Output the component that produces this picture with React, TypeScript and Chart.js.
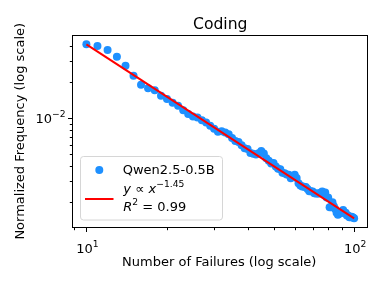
import React, { useEffect, useRef } from "react";
import { Chart, registerables } from "chart.js";

Chart.register(...registerables);

// ---------- data ----------
const TITLE = "Coding";
const X_LABEL = "Number of Failures (log scale)";
const Y_LABEL = "Normalized Frequency (log scale)";
const SERIES_LABEL = "Qwen2.5-0.5B";

const FAILURES = [
  10, 11, 12, 13, 14, 15, 16, 17, 18, 19, 20, 21, 22, 23, 24, 25, 26, 27, 28, 29,
  30, 31, 32, 33, 34, 35, 36, 37, 38, 39, 40, 41, 42, 43, 44, 45, 46, 47, 48, 49,
  50, 51, 52, 53, 54, 55, 56, 57, 58, 59, 60, 61, 62, 63, 64, 65, 66, 67, 68, 69,
  70, 71, 72, 73, 74, 75, 76, 77, 78, 79, 80, 81, 82, 83, 84, 85, 86, 87, 88, 89,
  90, 91, 92, 93, 94, 95, 96, 97, 98, 99, 100,
];

const FREQUENCY = [
  0.0414, 0.0400, 0.0370, 0.03259, 0.02742, 0.02263, 0.01901, 0.01776, 0.01711, 0.01539,
  0.01449, 0.01345, 0.01269, 0.01167, 0.01087, 0.01034, 0.01015, 0.00961, 0.00921, 0.00867,
  0.00818, 0.00772, 0.00781, 0.00762, 0.00736, 0.00686, 0.00646, 0.00633, 0.00597, 0.00564,
  0.00554, 0.00514, 0.00507, 0.00499, 0.00511, 0.00534, 0.00508, 0.00465, 0.00442, 0.00421,
  0.00425, 0.00397, 0.00379, 0.00376, 0.00352, 0.00349, 0.00340, 0.00338, 0.00317, 0.00328,
  0.00339, 0.00318, 0.00288, 0.00276, 0.00270, 0.00269, 0.00268, 0.00257, 0.00247, 0.00247,
  0.00246, 0.00237, 0.00236, 0.00236, 0.00236, 0.00240, 0.00245, 0.00236, 0.00241, 0.00219,
  0.00219, 0.00181, 0.00181, 0.00200, 0.00185, 0.00175, 0.00163, 0.00157, 0.00160, 0.00164,
  0.00165, 0.00172, 0.00162, 0.00163, 0.00155, 0.00155, 0.00150, 0.00150, 0.00151, 0.00149,
  0.00147,
];

const FIT_COEFF = 1.1655;
const FIT_EXPONENT = -1.45;
const FIT_EXPONENT_LABEL = "\u22121.45";
const FIT_R2_LABEL = "0.99";
const FIT_X_RANGE = [10, 100];

const X_MAJOR = [10, 100];
const X_MAJOR_EXP = ["1", "2"];
const X_MINOR = [9, 20, 30, 40, 50, 60, 70, 80, 90];
const Y_MAJOR = [0.01];
const Y_MAJOR_EXP = ["\u22122"];
const Y_MINOR = [0.002, 0.003, 0.004, 0.005, 0.006, 0.007, 0.008, 0.009, 0.02, 0.03, 0.04];

// ---------- styling ----------
const FONT = '"DejaVu Sans", "Liberation Sans", sans-serif';
const BLUE = "#1e90ff";
const RED = "#ff0000";

type Run = { t: string; size: number; italic?: boolean; dy?: number };

function font(size: number, italic?: boolean) {
  return `${italic ? "oblique " : ""}${size}px ${FONT}`;
}

function runsWidth(ctx: CanvasRenderingContext2D, runs: Run[]) {
  let w = 0;
  for (const r of runs) {
    ctx.font = font(r.size, r.italic);
    w += ctx.measureText(r.t).width;
  }
  return w;
}

function drawRuns(
  ctx: CanvasRenderingContext2D,
  x: number,
  y: number,
  runs: Run[],
  align: "left" | "center" | "right"
) {
  const w = runsWidth(ctx, runs);
  let cx = align === "left" ? x : align === "center" ? x - w / 2 : x - w;
  ctx.textAlign = "left";
  ctx.textBaseline = "alphabetic";
  for (const r of runs) {
    ctx.font = font(r.size, r.italic);
    ctx.fillText(r.t, cx, y + (r.dy || 0));
    cx += ctx.measureText(r.t).width;
  }
}

const decorPlugin = {
  id: "decor",
  afterDraw(chart: any) {
    const ctx: CanvasRenderingContext2D = chart.ctx;
    const { left, right, top, bottom } = chart.chartArea;
    const xs = chart.scales.x;
    const ys = chart.scales.y;
    ctx.save();
    ctx.fillStyle = "#000";
    ctx.strokeStyle = "#000";

    // frame
    ctx.lineWidth = 1;
    ctx.strokeRect(Math.round(left) - 0.5, Math.round(top) + 0.5, Math.round(right) - Math.round(left), Math.round(bottom) - Math.round(top) - 1);

    const by = Math.round(bottom) - 0.5;
    const lx = Math.round(left) - 0.5;

    // x ticks
    ctx.beginPath();
    X_MAJOR.forEach((v) => {
      const px = Math.round(xs.getPixelForValue(v)) + 0.5;
      ctx.moveTo(px, by);
      ctx.lineTo(px, by + 4.5);
    });
    X_MINOR.forEach((v) => {
      const px = Math.round(xs.getPixelForValue(v)) + 0.5;
      ctx.moveTo(px, by);
      ctx.lineTo(px, by + 2.7);
    });
    // y ticks
    Y_MAJOR.forEach((v) => {
      const py = Math.round(ys.getPixelForValue(v)) + 0.5;
      ctx.moveTo(lx, py);
      ctx.lineTo(lx - 4.5, py);
    });
    Y_MINOR.forEach((v) => {
      const py = Math.round(ys.getPixelForValue(v)) + 0.5;
      ctx.moveTo(lx, py);
      ctx.lineTo(lx - 2.7, py);
    });
    ctx.stroke();

    // x tick labels
    X_MAJOR.forEach((v, i) => {
      const px = xs.getPixelForValue(v);
      drawRuns(ctx, px + 1, bottom + 25.5, [
        { t: "10", size: 13 },
        { t: X_MAJOR_EXP[i], size: 9.2, dy: -6.5 },
      ], "center");
    });
    // y tick labels
    Y_MAJOR.forEach((v, i) => {
      const py = ys.getPixelForValue(v);
      drawRuns(ctx, left - 7.5, py + 4.8, [
        { t: "10", size: 13 },
        { t: Y_MAJOR_EXP[i], size: 9.2, dy: -6.5 },
      ], "right");
    });

    // title
    ctx.font = font(15.6);
    ctx.textAlign = "center";
    ctx.textBaseline = "alphabetic";
    ctx.fillText(TITLE, (left + right) / 2, 28.5);

    // x label
    ctx.font = font(13);
    ctx.fillText(X_LABEL, (left + right) / 2 - 1, 265.5);

    // y label
    ctx.save();
    ctx.translate(23.5, (top + bottom) / 2);
    ctx.rotate(-Math.PI / 2);
    ctx.font = font(13);
    ctx.textAlign = "center";
    ctx.fillText(Y_LABEL, 0, 0);
    ctx.restore();

    // legend
    const L = { x: 80.5, y: 156.5, w: 142, h: 63.5 };
    ctx.beginPath();
    (ctx as any).roundRect(L.x, L.y, L.w, L.h, 3);
    ctx.fillStyle = "rgba(255,255,255,0.8)";
    ctx.fill();
    ctx.strokeStyle = "#d6d6d6";
    ctx.lineWidth = 1;
    ctx.stroke();

    ctx.fillStyle = BLUE;
    ctx.beginPath();
    ctx.arc(99.3, 170, 4, 0, Math.PI * 2);
    ctx.fill();

    ctx.strokeStyle = RED;
    ctx.lineWidth = 2;
    ctx.beginPath();
    ctx.moveTo(85, 199);
    ctx.lineTo(113.5, 199);
    ctx.stroke();

    ctx.fillStyle = "#000";
    drawRuns(ctx, 122.7, 173.8, [{ t: SERIES_LABEL, size: 13 }], "left");
    drawRuns(ctx, 123.3, 193.2, [
      { t: "y", size: 13, italic: true },
      { t: " \u221D ", size: 13 },
      { t: "x", size: 13, italic: true },
      { t: FIT_EXPONENT_LABEL, size: 9.2, dy: -6 },
    ], "left");
    drawRuns(ctx, 123.3, 210.5, [
      { t: "R", size: 13, italic: true },
      { t: "2", size: 9.2, dy: -6 },
      { t: " = " + FIT_R2_LABEL, size: 13 },
    ], "left");

    ctx.restore();
  },
};

export default function App() {
  const ref = useRef<HTMLCanvasElement | null>(null);

  useEffect(() => {
    if (!ref.current) return;
    const points = FAILURES.map((x, i) => ({ x, y: FREQUENCY[i] }));
    const fit = FIT_X_RANGE.map((x) => ({ x, y: FIT_COEFF * Math.pow(x, FIT_EXPONENT) }));
    const chart = new Chart(ref.current, {
      type: "scatter",
      data: {
        datasets: [
          {
            type: "line",
            label: "fit",
            data: fit,
            borderColor: RED,
            borderWidth: 2,
            pointRadius: 0,
            fill: false,
            order: 0,
          } as any,
          {
            type: "scatter",
            label: SERIES_LABEL,
            data: points,
            backgroundColor: BLUE,
            borderWidth: 0,
            pointRadius: 4,
            pointHoverRadius: 4,
            order: 1,
          },
        ],
      },
      options: {
        animation: false,
        responsive: false,
        devicePixelRatio: 1,
        events: [],
        layout: { padding: { left: 73, right: 14.5, top: 35, bottom: 59.5 } },
        plugins: {
          legend: { display: false },
          title: { display: false },
          tooltip: { enabled: false },
        },
        scales: {
          x: { type: "logarithmic", min: Math.pow(10, 0.95), max: Math.pow(10, 2.05), display: false },
          y: { type: "logarithmic", min: 0.00123, max: 0.04944, display: false },
        },
      },
      plugins: [decorPlugin],
    });
    return () => chart.destroy();
  }, []);

  return (
    <div style={{ position: "absolute", left: 0, top: 0, width: 382, height: 287, background: "#fff" }}>
      <canvas ref={ref} width={382} height={287} style={{ width: 382, height: 287 }} />
    </div>
  );
}
